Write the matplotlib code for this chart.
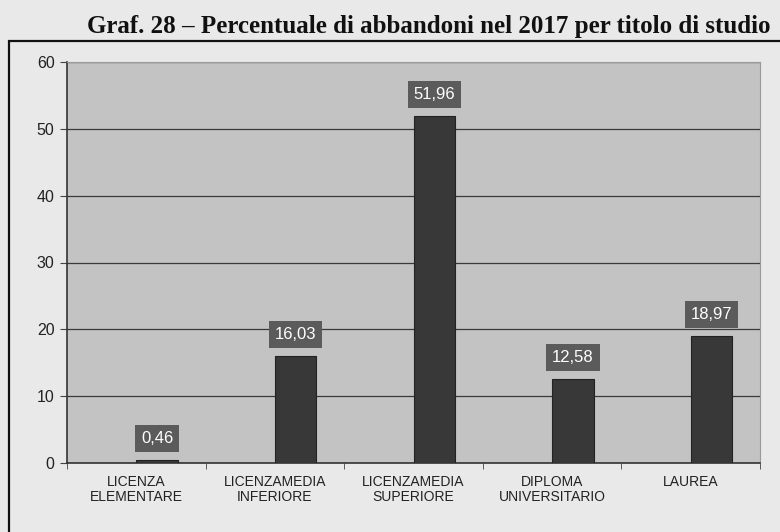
import numpy as np
from matplotlib import pyplot as plt
from matplotlib.patches import Rectangle

categories = [
    "LICENZA\nELEMENTARE",
    "LICENZAMEDIA\nINFERIORE",
    "LICENZAMEDIA\nSUPERIORE",
    "DIPLOMA\nUNIVERSITARIO",
    "LAUREA",
]
values = [0.46, 16.03, 51.96, 12.58, 18.97]
value_labels = ["0,46", "16,03", "51,96", "12,58", "18,97"]
yticks = [0, 10, 20, 30, 40, 50, 60]

W, H = 780, 532
fig = plt.figure(figsize=(W / 100, H / 100), dpi=100)
fig.patch.set_facecolor("#e9e9e9")

# outer frame of the scanned chart (runs off the right and bottom edge)
fig.patches.append(
    Rectangle((8.5 / W, -0.1), 1.2, 1.1 - 41 / H, transform=fig.transFigure,
              fill=False, edgecolor="#111111", linewidth=1.6)
)

fig.text(87 / W, 1 - 33 / H,
         "Graf. 28 \u2013 Percentuale di abbandoni nel 2017 per titolo di studio",
         family="Liberation Serif", weight="bold", fontsize=18, color="#111111",
         ha="left", va="baseline")

ax = fig.add_axes([67 / W, (H - 463) / H, 693 / W, 401 / H])
ax.set_facecolor("#c3c3c3")

x = np.arange(len(categories))
# bars start at the category centre (Excel style offset)
ax.bar(x, values, width=0.3, align="edge", color="#383838",
       edgecolor="#222222", linewidth=0.8, zorder=3)

for xi, v, lab in zip(x, values, value_labels):
    ax.annotate(lab, (xi + 0.15, v), xytext=(0, 10), textcoords="offset points",
                ha="center", va="bottom", color="white", fontsize=12,
                family="Liberation Sans",
                bbox=dict(boxstyle="square,pad=0.35", facecolor="#5b5b5b",
                          edgecolor="none"), zorder=4)

ax.set_xlim(-0.5, len(categories) - 0.5)
ax.set_ylim(0, 60)
ax.set_yticks(yticks)
ax.set_yticklabels([str(t) for t in yticks], family="Liberation Sans",
                   fontsize=11.5, color="#222222")
ax.yaxis.grid(True, color="#3a3a3a", linewidth=0.9)
ax.set_axisbelow(True)

ax.set_xticks(x)
ax.set_xticklabels(categories, family="Liberation Sans", fontsize=10,
                   color="#222222", linespacing=1.05)
ax.tick_params(axis="x", length=0, pad=9)
ax.set_xticks(np.arange(-0.5, len(categories)), minor=True)
ax.tick_params(axis="x", which="minor", length=4, color="#444444")
ax.tick_params(axis="y", length=5, color="#444444", pad=4)

for side in ["top", "right"]:
    ax.spines[side].set_color("#9a9a9a")
    ax.spines[side].set_linewidth(0.8)
for side in ["left", "bottom"]:
    ax.spines[side].set_color("#333333")
    ax.spines[side].set_linewidth(1.2)

fig.savefig("out.png", dpi=100, facecolor=fig.get_facecolor())
